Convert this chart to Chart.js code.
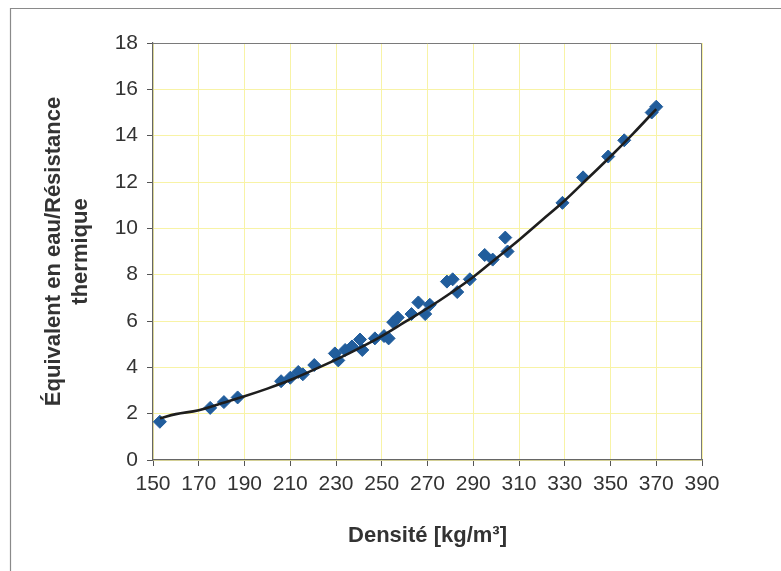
<!DOCTYPE html>
<html>
<head>
<meta charset="utf-8">
<script src="https://cdn.jsdelivr.net/npm/chart.js@4/dist/chart.umd.min.js"></script>
<style>
html,body{margin:0;padding:0;background:#fff;}
#wrap{width:781px;height:571px;}
</style>
</head>
<body>
<div id="wrap"><canvas id="c" width="781" height="571"></canvas></div>
<script>
// Measured points (Densité, Équivalent en eau / Résistance thermique)
const densite = [153,175,181,187,206,210,213.5,215.5,220.5,229.5,231,234,237,240.5,241.5,247,251,253,255,257,263,266,269,271,278.5,281,283,288.5,295,298.5,304,305,329,338,349,356,368,370];
const equivalent = [1.65,2.25,2.5,2.7,3.4,3.55,3.8,3.7,4.1,4.6,4.3,4.75,4.9,5.2,4.75,5.25,5.35,5.25,5.95,6.15,6.3,6.8,6.3,6.7,7.7,7.8,7.25,7.8,8.85,8.65,9.6,9.0,11.1,12.2,13.1,13.8,15.0,15.25];
// Trend curve
const curveX = [153,160,170,180,190,200,210,220,230,240,250,260,270,280,290,300,310,320,330,340,350,360,370];
const curveY = [1.8,1.98,2.15,2.45,2.75,3.08,3.45,3.88,4.33,4.82,5.35,5.95,6.55,7.2,7.9,8.7,9.5,10.35,11.2,12.15,13.1,14.1,15.15];
const xTicks = [150,170,190,210,230,250,270,290,310,330,350,370,390];
const yTicks = [0,2,4,6,8,10,12,14,16,18];
const xTitle = 'Densité [kg/m³]';
const yTitle = ['Équivalent en eau/Résistance','thermique'];

const scatterPts = densite.map((x,i)=>({x:x,y:equivalent[i]}));
const curvePts = curveX.map((x,i)=>({x:x,y:curveY[i]}));

const frame = {
  id:'frame',
  beforeDraw(chart){
    const ctx = chart.ctx;
    ctx.save();
    ctx.fillStyle='#fff';
    ctx.fillRect(0,0,chart.width,chart.height);
    ctx.strokeStyle='#8a8a8a';
    ctx.lineWidth=1.2;
    ctx.beginPath();
    ctx.moveTo(10.5,chart.height);
    ctx.lineTo(10.5,8.5);
    ctx.lineTo(chart.width,8.5);
    ctx.stroke();
    ctx.restore();
  },
  afterDatasetsDraw(chart){
    const a = chart.chartArea, ctx = chart.ctx;
    ctx.save();
    ctx.strokeStyle='#7a7a7a';
    ctx.lineWidth=1;
    ctx.beginPath();
    ctx.moveTo(a.left, a.top+0.5);
    ctx.lineTo(a.right-0.5, a.top+0.5);
    ctx.lineTo(a.right-0.5, a.bottom);
    ctx.stroke();
    ctx.restore();
  }
};

const fontFam = '"Liberation Sans", Arial, sans-serif';
const gridYellow = '#f8f3a6';

new Chart(document.getElementById('c'), {
  type:'scatter',
  data:{
    datasets:[
      {
        type:'line',
        data:curvePts,
        borderColor:'#1e1e1e',
        borderWidth:2.6,
        pointRadius:0,
        tension:0.4,
        fill:false
      },
      {
        type:'scatter',
        data:scatterPts,
        pointStyle:'rectRot',
        pointRadius:6.5,
        pointBackgroundColor:'#215d9c',
        pointBorderColor:'#215d9c',
        pointBorderWidth:1
      }
    ]
  },
  options:{
    responsive:false,
    animation:false,
    events:[],
    layout:{padding:{left:0,top:43,right:79,bottom:0}},
    plugins:{legend:{display:false},tooltip:{enabled:false}},
    scales:{
      x:{
        type:'linear',
        min:150,max:390,
        afterBuildTicks(s){ s.ticks = xTicks.map(v=>({value:v})); },
        afterFit(s){ s.height = 111; },
        ticks:{color:'#333',font:{family:fontFam,size:21},padding:6,maxRotation:0,autoSkip:false},
        grid:{color:gridYellow,lineWidth:1,tickColor:'#555',tickLength:6},
        border:{color:'#666',width:1.2},
        title:{display:true,text:xTitle,color:'#333',font:{family:fontFam,size:22,weight:'bold',lineHeight:1.23},padding:{top:0,bottom:22}}
      },
      y:{
        type:'linear',
        min:0,max:18,
        afterBuildTicks(s){ s.ticks = yTicks.map(v=>({value:v})); },
        afterFit(s){ s.width = 153; },
        ticks:{color:'#333',font:{family:fontFam,size:21},padding:9},
        grid:{color:gridYellow,lineWidth:1,tickColor:'#555',tickLength:6},
        border:{color:'#666',width:1.2},
        title:{display:true,text:yTitle,color:'#333',font:{family:fontFam,size:22,weight:'bold',lineHeight:1.23},padding:{top:40,bottom:0}}
      }
    }
  },
  plugins:[frame]
});
</script>
</body>
</html>
